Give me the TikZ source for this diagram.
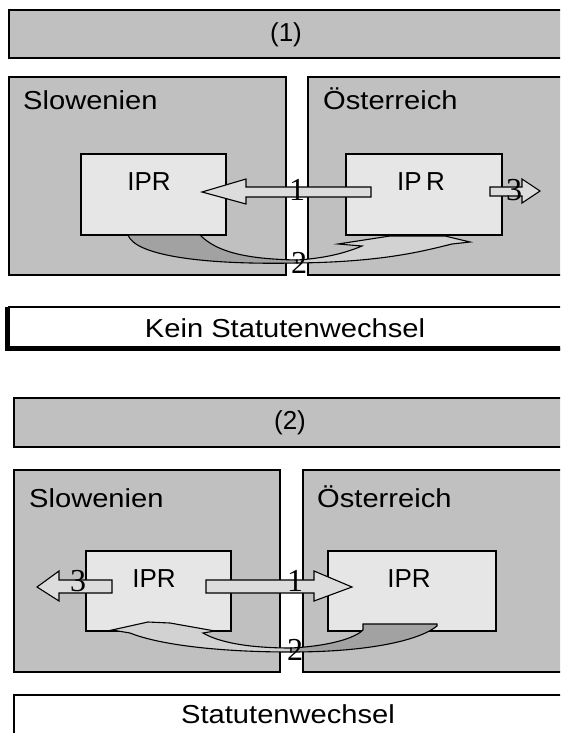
\documentclass[tikz,border=0pt]{standalone}
\usepackage{graphicx}
\usepackage{fontspec}
\setmainfont{Liberation Sans}
\newfontfamily\numfont{Liberation Serif}
\definecolor{boxgray}{HTML}{C0C0C0}
\definecolor{iprgray}{HTML}{E6E6E6}
\definecolor{arrowgray}{HTML}{DCDCDC}
\definecolor{shadegray}{HTML}{A2A2A2}
\definecolor{curvegray}{HTML}{D2D2D2}
\newcommand\widetxt[1]{\scalebox{1.12}[1]{#1}}
\begin{document}
\begin{tikzpicture}[x=1pt,y=-1pt,
  region/.style={draw=black, line width=1.2pt, fill=boxgray, anchor=north west, inner sep=0pt, outer sep=0pt},
  iprbox/.style={draw=black, line width=1.2pt, fill=iprgray, anchor=north west, inner sep=0pt, outer sep=0pt},
  resultbar/.style={draw=black, line width=1.2pt, fill=white, anchor=north west, inner sep=0pt, outer sep=0pt},
  txt/.style={inner sep=0pt, font=\fontsize{26}{30}\selectfont},
  num/.style={inner sep=0pt, font=\numfont\fontsize{32}{36}\selectfont},
  blockarrow/.style={draw=black, line width=1.1pt, fill=arrowgray, line join=miter},
  curvelight/.style={draw=black, line width=1.1pt, fill=curvegray},
  curvedark/.style={draw=black, line width=1.1pt, fill=shadegray}
]
\useasboundingbox (0,0) rectangle (560,733);
\fill[white] (0,0) rectangle (560,733);
\begin{scope}
\clip (0,0) rectangle (560,733);

% ================= (1) =================
\node[region, minimum width=561pt, minimum height=48pt] (title1) at (9,10) {};
\node[txt] (t1) at (286,35) {(1)};
\node[region, minimum width=277pt, minimum height=198pt] (slo1) at (9,77) {};
\node[region, minimum width=262pt, minimum height=198pt] (aut1) at (308,77) {};
\node[txt, anchor=base west] (slotxt1) at (23,110) {\widetxt{Slowenien}};
\node[txt, anchor=base west] (auttxt1) at (323,110) {\widetxt{Österreich}};
\node[iprbox, minimum width=145pt, minimum height=81pt] (ipl1) at (81,154) {};
\node[iprbox, minimum width=156pt, minimum height=81pt] (ipr1) at (346,154) {};
\node[txt, anchor=base] (ipltxt1) at (149,190) {IPR};
\node[txt, anchor=base] (iprtxt1) at (421,190) {IP\,R};

% arrow 1 (Austria -> Slovenia)
\draw[blockarrow] (371,187) -- (246,187) -- (246,179) -- (202,192) -- (246,204) -- (246,197) -- (371,197) -- cycle;
% arrow 3 (out of Austria)
\draw[blockarrow] (490,187) -- (522,187) -- (522,179) -- (540,191) -- (522,203) -- (522,196) -- (490,196) -- cycle;
% curved arrow 2
\draw[curvedark] (128,235) -- (200,235) .. controls (215,250) and (240,259) .. (297,260)
   -- (297,263) .. controls (200,265) and (135,255) .. (128,235) -- cycle;
\draw[curvelight] (297,260) .. controls (330,258) and (350,251) .. (362,246)
   -- (338,244) -- (390,236) -- (445,236) -- (470,242) -- (452,244)
   .. controls (420,252) and (380,262) .. (297,263) -- cycle;
\node[num] (n1a) at (297,190) {1};
\node[num] (n3a) at (514,190) {3};
\node[num] (n2a) at (299,263) {2};

% result bar
\node[resultbar, minimum width=561pt, minimum height=42pt] (res1) at (9,307) {};
\draw[line width=4.5pt] (res1.north west) ++(-1.5,0) coordinate (r1a) -- ++(0,41.5) coordinate (r1b) -- ++(570,0);
\node[txt, anchor=base] (restxt1) at (285,337) {\widetxt{Kein Statutenwechsel}};

% ================= (2) =================
\node[region, minimum width=556pt, minimum height=49pt] (title2) at (14,398) {};
\node[txt] (t2) at (290,423) {(2)};
\node[region, minimum width=266pt, minimum height=202pt] (slo2) at (14,470) {};
\node[region, minimum width=267pt, minimum height=202pt] (aut2) at (303,470) {};
\node[txt, anchor=base west] (slotxt2) at (29,507) {\widetxt{Slowenien}};
\node[txt, anchor=base west] (auttxt2) at (317,507) {\widetxt{Österreich}};
\node[iprbox, minimum width=145pt, minimum height=80pt] (ipl2) at (86,551) {};
\node[iprbox, minimum width=168pt, minimum height=80pt] (ipr2) at (328,551) {};
\node[txt, anchor=base] (ipltxt2) at (154,587) {IPR};
\node[txt, anchor=base] (iprtxt2) at (409,587) {IPR};

% arrow 1 (Slovenia -> Austria)
\draw[blockarrow] (206,580) -- (314,580) -- (314,571) -- (352,587) -- (314,601) -- (314,593) -- (206,593) -- cycle;
% arrow 3 (out of Slovenia)
\draw[blockarrow] (112,580) -- (59,580) -- (59,571) -- (37,587) -- (59,601) -- (59,593) -- (112,593) -- cycle;
% curved arrow 2
\draw[curvelight] (291,648) .. controls (240,648) and (215,640) .. (203,633)
   -- (215,631) -- (170,623) -- (148,622) -- (112,630) -- (130,633)
   .. controls (160,645) and (220,652) .. (291,652) -- cycle;
\draw[curvedark] (291,648) .. controls (330,646) and (355,638) .. (363,630)
   -- (363,624) -- (437,624) -- (437,626)
   .. controls (420,640) and (370,652) .. (291,652) -- cycle;
\node[num] (n1b) at (295,581) {1};
\node[num] (n3b) at (78,581) {3};
\node[num] (n2b) at (295,650) {2};

% result bar
\node[resultbar, minimum width=556pt, minimum height=45pt] (res2) at (14,695) {};
\node[txt, anchor=base] (restxt2) at (288,723) {\widetxt{Statutenwechsel}};
\end{scope}
\end{tikzpicture}
\end{document}
